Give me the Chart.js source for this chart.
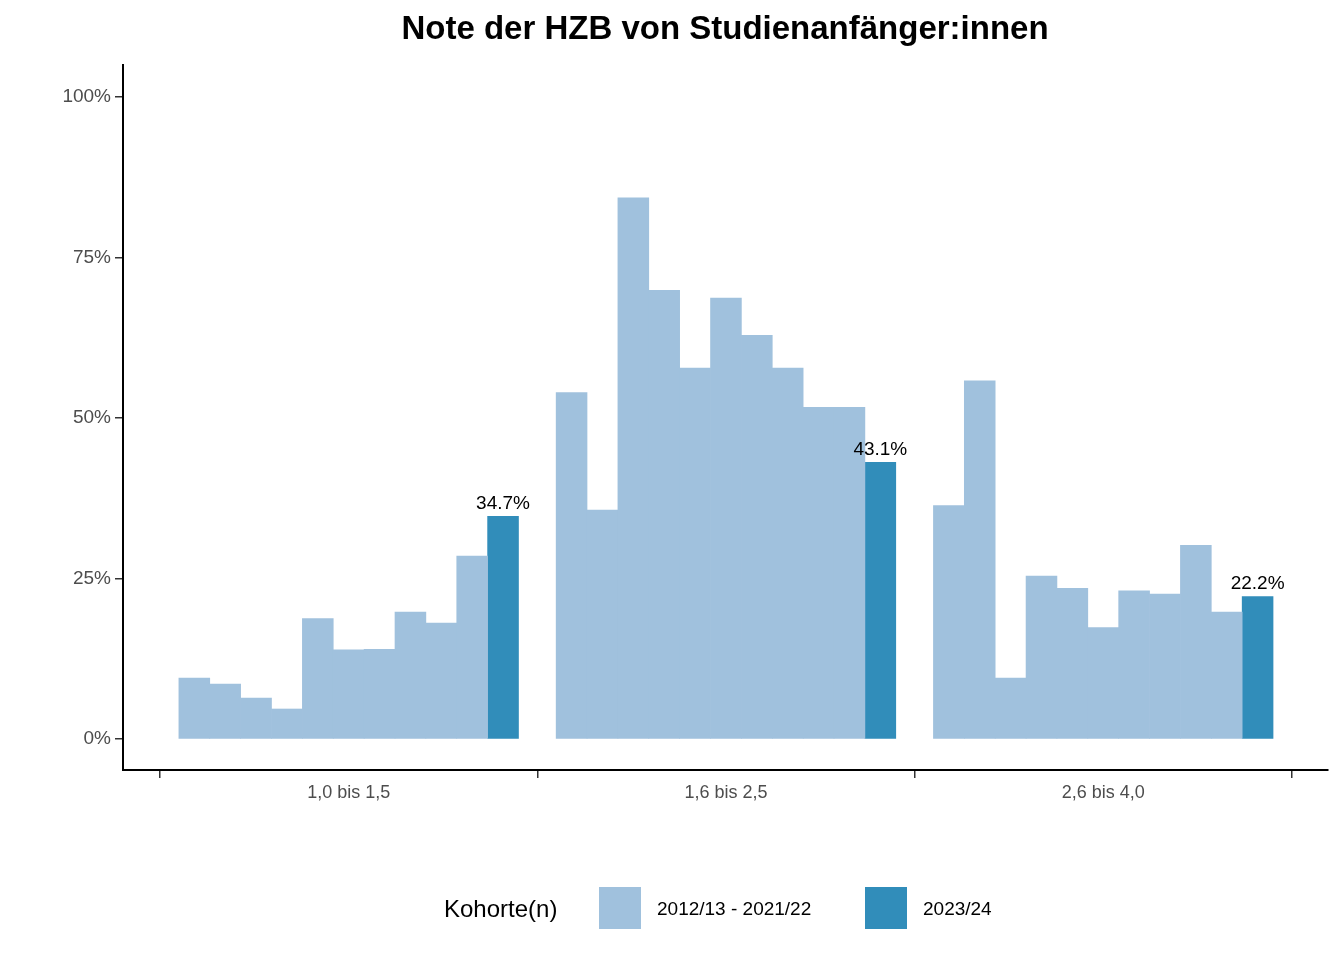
<!DOCTYPE html>
<html><head><meta charset="utf-8">
<script src="https://cdn.jsdelivr.net/npm/chart.js@4"></script>
<style>html,body{margin:0;padding:0;background:#fff}</style>
</head><body>
<div style="width:1344px;height:960px"><canvas id="c"></canvas></div>
<script>
const categories = ["1,0 bis 1,5", "1,6 bis 2,5", "2,6 bis 4,0"];
const pastValues = [
  [9.5, 8.6, 6.4, 4.7, 18.8, 13.9, 14.0, 19.8, 18.1, 28.5],
  [54.0, 35.7, 84.3, 69.9, 57.8, 68.7, 62.9, 57.8, 51.7, 51.7],
  [36.4, 55.8, 9.5, 25.4, 23.5, 17.4, 23.1, 22.6, 30.2, 19.8]
];
const currentValues = [34.7, 43.1, 22.2];
const seriesNames = ["2012/13 - 2021/22", "2023/24"];
const yTicks = [0, 25, 50, 75, 100];

const G = 12.22;
const pastData = [], curData = [];
categories.forEach((c, g) => {
  pastValues[g].forEach((v, i) => pastData.push({x: g*G + i - 5, y: v}));
  curData.push({x: g*G + 5, y: currentValues[g]});
});
const font = "'Liberation Sans', Arial, sans-serif";
const light = '#a0c1dd', dark = '#318dba';

const overlay = {
  id: 'overlay',
  afterDraw(chart) {
    const ctx = chart.ctx;
    ctx.save();
    ctx.fillStyle = '#000';
    ctx.font = 'bold 33px ' + font;
    ctx.textAlign = 'center'; ctx.textBaseline = 'middle';
    ctx.fillText('Note der HZB von Studienanfänger:innen', 725, 30);
    const meta = chart.getDatasetMeta(1);
    ctx.font = '19px ' + font;
    ctx.textBaseline = 'bottom';
    meta.data.forEach((b, i) => ctx.fillText(currentValues[i].toFixed(1) + '%', b.x, b.y - 3));
    ctx.textAlign = 'left'; ctx.textBaseline = 'middle';
    ctx.font = '24px ' + font;
    ctx.fillText('Kohorte(n)', 444, 910);
    ctx.fillStyle = light; ctx.fillRect(599, 887, 42, 42);
    ctx.fillStyle = dark; ctx.fillRect(865, 887, 42, 42);
    ctx.fillStyle = '#000'; ctx.font = '19px ' + font;
    ctx.fillText(seriesNames[0], 657, 910);
    ctx.fillText(seriesNames[1], 923, 910);
    ctx.restore();
  }
};

new Chart(document.getElementById('c'), {
  type: 'bar',
  data: { datasets: [
    {label: seriesNames[0], data: pastData, backgroundColor: light, grouped: false, barPercentage: 1, categoryPercentage: 1},
    {label: seriesNames[1], data: curData, backgroundColor: dark, grouped: false, barPercentage: 1, categoryPercentage: 1}
  ]},
  options: {
    responsive: true, maintainAspectRatio: false, animation: false,
    layout: {padding: {top: 65, right: 16, left: 0, bottom: 0}},
    plugins: {legend: {display: false}, title: {display: false}, tooltip: {enabled: false}},
    scales: {
      x: {
        type: 'linear', min: -7.31, max: 31.72, offset: false, bounds: 'data',
        grid: {display: true, drawOnChartArea: false, drawTicks: true, tickLength: 8, color: '#333', lineWidth: 1.5},
        border: {display: true, color: '#000', width: 2},
        afterBuildTicks: s => { s.ticks = categories.map((c, g) => ({value: g*G})); },
        ticks: {autoSkip: false, maxRotation: 0, color: '#4d4d4d', font: {size: 18, family: font}, padding: 4,
          callback: (v, i) => categories[i]},
        afterFit: s => { s.height = 190; }
      },
      y: {
        min: -4.8, max: 105,
        grid: {display: true, drawOnChartArea: false, drawTicks: true, tickLength: 8, color: '#333', lineWidth: 1.5},
        border: {display: true, color: '#000', width: 2},
        afterBuildTicks: s => { s.ticks = yTicks.map(v => ({value: v})); },
        ticks: {color: '#4d4d4d', font: {size: 19, family: font}, padding: 4, callback: v => v + '%'},
        afterFit: s => { s.width = 123; }
      }
    }
  },
  plugins: [overlay]
});
</script>
</body></html>
